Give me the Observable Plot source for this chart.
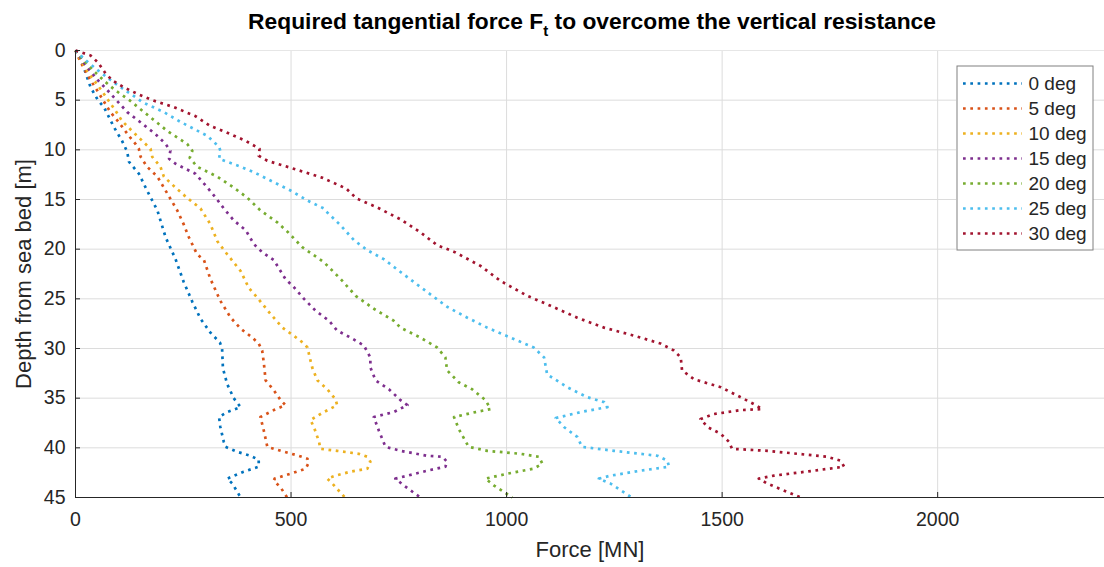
<!DOCTYPE html>
<html>
<head>
<meta charset="utf-8">
<script src="https://cdn.jsdelivr.net/npm/d3@7"></script>
<script src="https://cdn.jsdelivr.net/npm/@observablehq/plot@0.6"></script>
<style>
  html, body { margin: 0; padding: 0; background: white; overflow: hidden; }
  #wrap { position: relative; width: 1104px; height: 567px; font-family: "Liberation Sans", Arial, Helvetica, sans-serif; }
  #title { position: absolute; left: 75px; width: 1034px; top: 8px; text-align: center; font-weight: bold; font-size: 22.8px; color: #000; line-height: 26px; white-space: nowrap; }
  #title sub { font-size: 15px; line-height: 0; vertical-align: -7px; }
  #chart { position: absolute; left: 0; top: 38px; }
  #legend { position: absolute; left: 956px; top: 65px; }
</style>
</head>
<body>
<div id="wrap">
  <div id="title">Required tangential force F<sub>t</sub> to overcome the vertical resistance</div>
  <div id="chart"></div>
  <div id="legend"></div>
</div>
<script>
// ---- data: [depth (m), force (MN)] ----
const seriesNames = ["0 deg", "5 deg", "10 deg", "15 deg", "20 deg", "25 deg", "30 deg"];

const deg0 = [[0,0],[0.7,12],[2.2,23],[3.7,35],[5,52],[5.7,66],[7.7,89],[9.1,108],[10.2,120],[11.2,124],[12.4,147],[14.1,166],[16.1,190],[18.8,209],[21,232],[23.3,251],[25.3,271],[27,290],[28.4,313],[29.4,335],[30,340],[32,342],[33.6,352],[35,367],[35.9,383],[36.4,352],[36.9,333],[37.9,336],[39.4,344],[39.9,348],[40.4,375],[40.8,406],[41.2,425],[41.9,425],[42.4,390],[43.1,352],[43.6,364],[45,383]];

const deg5 = [[0,0],[1,10],[2,22],[3,35],[4,50],[5,64],[6.2,81],[7.2,100],[8.6,124],[9.4,139],[9.9,147],[10.7,151],[11.7,166],[12.7,190],[14.4,213],[16.1,236],[17.5,251],[18.8,263],[20.5,282],[21.1,298],[23,313],[25.2,336],[26.9,360],[28,383],[28.9,410],[29.5,425],[30.2,433],[31.5,437],[33.2,441],[34.2,460],[35.2,476],[35.7,487],[36.2,460],[36.9,429],[38.3,437],[39.9,445],[40.3,476],[40.8,518],[41.1,538],[41.5,541],[42.1,534],[42.6,499],[43.1,462],[43.3,460],[44,476],[45,491]];

const deg10 = [[0,0],[1,12],[2,27],[3,43],[4,60],[5,76],[6,92],[7.1,108],[8.1,131],[9.1,155],[9.9,174],[10.7,178],[11.7,197],[12.7,205],[13.8,232],[14.8,258],[15.9,290],[17.5,313],[19.2,329],[20.3,348],[22.2,383],[23.9,402],[24.9,422],[26.5,452],[27.9,480],[28.7,506],[29.5,530],[29.9,538],[31.2,545],[31.9,549],[33.2,561],[34.1,584],[35.1,603],[35.7,607],[36.4,576],[37.2,545],[37.9,553],[39.4,565],[40.1,568],[40.3,607],[40.6,657],[40.9,677],[41.4,684],[42.1,677],[42.4,638],[42.8,603],[43.1,584],[43.6,596],[45,625]];

const deg15 = [[0,0],[1,15],[2,33],[3,52],[4,74],[5,95],[6.2,120],[7.2,150],[8.4,185],[9.4,209],[10.1,220],[10.9,217],[11.4,232],[12.4,278],[13.8,306],[14.8,325],[15.9,344],[17.1,367],[18.1,395],[19.5,414],[20.3,433],[21.1,460],[23,487],[23.8,506],[25,530],[26.2,557],[27.2,588],[28.2,607],[28.9,638],[29.7,669],[30.9,684],[31.9,684],[33.2,696],[34.1,727],[35.2,754],[35.7,770],[36.4,738],[36.9,692],[38.3,704],[39.9,719],[40.3,754],[40.8,816],[40.9,851],[41.4,862],[41.9,858],[42.3,816],[42.8,770],[43.1,742],[43.8,762],[45,800]];

const deg20 = [[0,0],[1,19],[2,41],[3,65],[4,92],[5,125],[6.2,159],[8.1,213],[9.4,259],[10.1,271],[10.8,265],[11.7,282],[12.7,329],[13.8,367],[14.8,398],[16.1,429],[17.3,468],[18.3,493],[19.8,526],[21.3,576],[23,615],[24.7,650],[26,692],[27.2,738],[27.9,754],[28.9,800],[29.9,839],[30.9,858],[32.2,862],[33.4,889],[34.1,920],[35.2,951],[36.1,963],[36.4,928],[36.9,878],[38.1,889],[39.9,912],[40.3,955],[40.6,1032],[40.9,1075],[41.6,1083],[42.1,1063],[42.6,1002],[43.1,951],[43.8,971],[45,1013]];

const deg25 = [[0,0],[1,24],[2,52],[3,82],[4,115],[4.7,139],[5.2,155],[6.2,205],[7.2,244],[8.6,306],[9.7,333],[10.1,336],[10.9,333],[11.7,383],[12.3,416],[13.3,462],[14.1,499],[15.1,538],[15.9,576],[16.3,584],[17.6,615],[19.1,646],[20.1,677],[21,715],[22.3,754],[23.8,800],[25.8,862],[26.9,909],[27.9,955],[28.9,1009],[29.9,1063],[30.9,1087],[32.6,1094],[33.9,1141],[34.9,1187],[35.4,1226],[35.9,1234],[36.4,1172],[37,1114],[37.9,1133],[38.9,1164],[39.9,1175],[40.3,1249],[40.8,1350],[41.3,1373],[41.9,1377],[42.3,1311],[42.8,1241],[43.1,1214],[43.6,1241],[45,1290]];

const deg30 = [[0,0],[0.5,35],[1.2,52],[2.2,68],[3,85],[3.7,112],[4.4,145],[5,178],[5.7,228],[6.6,278],[7.6,313],[8.2,348],[9.1,395],[9.9,427],[10.6,425],[11.1,445],[11.9,506],[12.8,572],[13.9,628],[14.9,652],[15.8,700],[17,754],[18.3,800],[19.6,839],[20.3,880],[21.7,940],[23.2,986],[24.7,1048],[25.7,1102],[26.9,1164],[27.9,1226],[28.7,1295],[29.5,1357],[30.2,1388],[30.9,1404],[32.2,1407],[33.1,1435],[33.9,1497],[34.9,1543],[35.6,1574],[36.1,1593],[36.2,1543],[36.6,1481],[37.1,1450],[37.9,1466],[38.6,1497],[39.4,1516],[40.1,1523],[40.3,1605],[40.9,1744],[41.3,1775],[41.9,1783],[42.3,1713],[42.8,1620],[43.1,1585],[43.6,1605],[45,1682]];

const xTicks = [0, 500, 1000, 1500, 2000];
const yTicks = [0, 5, 10, 15, 20, 25, 30, 35, 40, 45];

// ---- styling ----
const colors = ["#0072BD", "#D95319", "#EDB120", "#7E2F8E", "#77AC30", "#4DBEEE", "#A2142F"];
const font = "'Liberation Sans', Arial, Helvetica, sans-serif";
const axisColor = "#262626";
const dash = "2.7 4.6";

const allSeries = [deg0, deg5, deg10, deg15, deg20, deg25, deg30];
const rows = [];
allSeries.forEach((arr, i) => arr.forEach(([d, f]) => rows.push({series: seriesNames[i], depth: d, force: f})));

const xMax = 2387, yMax = 45;

const chart = Plot.plot({
  width: 1104,
  height: 529,
  marginLeft: 75,
  marginRight: 0,
  marginTop: 12,
  marginBottom: 70,
  style: {fontFamily: font, fontSize: "19px", color: axisColor, background: "white", overflow: "visible"},
  x: {domain: [0, xMax], label: null},
  y: {domain: [0, yMax], reverse: true, label: null},
  color: {domain: seriesNames, range: colors},
  marks: [
    Plot.gridX(xTicks, {stroke: "#dcdcdc", strokeOpacity: 1, strokeWidth: 1}),
    Plot.gridY(yTicks, {stroke: "#dcdcdc", strokeOpacity: 1, strokeWidth: 1}),
    Plot.ruleY([0], {stroke: "#e6e6e6"}),
    Plot.axisX({ticks: xTicks, tickFormat: d => String(d), tickSize: 0, tickPadding: 15, fill: axisColor, fontSize: 19.5, label: null}),
    Plot.axisY({ticks: yTicks, tickFormat: d => String(d), tickSize: 0, tickPadding: 10, fill: axisColor, fontSize: 19.5, label: null}),
    Plot.line(rows, {x: "force", y: "depth", z: "series", stroke: "series", strokeWidth: 2.7, strokeDasharray: dash, strokeLinecap: "butt"}),
    // inward tick marks
    Plot.ruleY(yTicks, {y: d => d, x1: 0, x2: xMax * 5 / 1029, stroke: axisColor, strokeWidth: 1}),
    Plot.ruleX(xTicks, {x: d => d, y1: yMax, y2: yMax - 45 * 5 / 447, stroke: axisColor, strokeWidth: 1}),
    // axis lines
    Plot.ruleX([0], {stroke: axisColor, strokeWidth: 1}),
    Plot.ruleY([yMax], {stroke: axisColor, strokeWidth: 1}),
    Plot.text(["Force [MN]"], {frameAnchor: "bottom", dy: 52, text: d => d, fill: axisColor, fontSize: 22, lineAnchor: "middle"}),
    Plot.text(["Depth from sea bed [m]"], {frameAnchor: "left", dx: -52, rotate: -90, text: d => d, fill: axisColor, fontSize: 22, textAnchor: "middle", lineAnchor: "middle"})
  ]
});
document.getElementById("chart").appendChild(chart);

const legend = Plot.plot({
  width: 137,
  height: 185,
  margin: 0,
  style: {fontFamily: font, fontSize: "19px", background: "white", overflow: "visible"},
  x: {domain: [0, 137], range: [0, 137], axis: null},
  y: {type: "point", domain: seriesNames, range: [17, 169], padding: 0, axis: null},
  color: {domain: seriesNames, range: colors},
  marks: [
    Plot.frame({stroke: "#808080", strokeWidth: 1, inset: 0.5}),
    Plot.ruleY(seriesNames, {y: d => d, x1: 7, x2: 66, stroke: d => d, strokeWidth: 2.7, strokeDasharray: dash}),
    Plot.text(seriesNames, {x: 72, y: d => d, text: d => d, textAnchor: "start", fill: axisColor, fontSize: 19})
  ]
});
document.getElementById("legend").appendChild(legend);
</script>
</body>
</html>
